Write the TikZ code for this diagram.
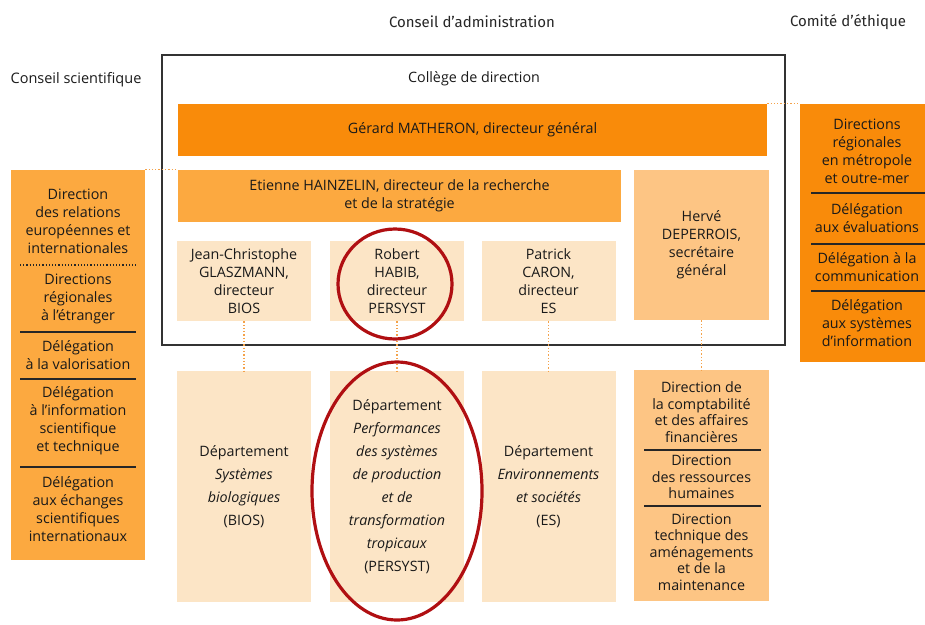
\documentclass[tikz,border=0pt]{standalone}
\usepackage{fontspec}
\setmainfont{Open Sans}
\newfontfamily\headfont{Fira Sans}
\usetikzlibrary{positioning}

\definecolor{darkorange}{HTML}{F98B0A}
\definecolor{midorange}{HTML}{FCA940}
\definecolor{lightorange}{HTML}{FDC584}
\definecolor{beige}{HTML}{FCE5C6}
\definecolor{ringred}{HTML}{B00F12}
\definecolor{dotorange}{HTML}{F4A24A}

\begin{document}
\begin{tikzpicture}[x=1pt, y=-1pt, font=\fontsize{14.3}{18}\selectfont, text=black!90,
          orgbox/.style={rectangle, inner sep=0pt, align=center},
          headbox/.style={orgbox, fill=darkorange},
          midbox/.style={orgbox, fill=midorange},
          lightbox/.style={orgbox, fill=lightorange},
          dirbox/.style={orgbox, fill=beige, minimum width=134, minimum height=80},
          deptbox/.style={orgbox, fill=beige, minimum width=134, minimum height=231, font=\fontsize{14.3}{23}\selectfont},
          sectext/.style={align=center, inner sep=0pt},
          sepline/.style={black!85, line width=1.2pt},
          dotlink/.style={dotorange, dotted, line width=1.3pt},
          ring/.style={ringred, line width=3.2pt},
          toplabel/.style={font=\headfont\fontsize{15}{17}\selectfont, text=black!85}]
        \useasboundingbox (0,0) rectangle (925,624);

        % labels above the boxes
        \node [toplabel] (ca) at (472,22) {Conseil d’administration};
        \node [toplabel] (ce) at (848,22) {Comité d’éthique};
        \node [font=\fontsize{14.5}{16}\selectfont] (cs) at (76,80) {Conseil scientifique};

        % college de direction
        \node [draw=black!80, line width=1.5pt, minimum width=623, minimum height=290] (college) at (473.5,200) {};
        \node (cdtitle) at (474,79) {Collège de direction};
        \node [headbox, minimum width=589, minimum height=52] (gerard) at (472.5,130) {Gérard MATHERON, directeur général};
        \node [midbox, minimum width=443, minimum height=52] (etienne) at (399.5,196) {Etienne HAINZELIN, directeur de la recherche\\et de la stratégie};
        \node [lightbox, minimum width=135, minimum height=150] (herve) at (701.5,245) {Hervé\\DEPERROIS,\\secrétaire\\général};
        \node [dirbox] (dBIOS) at (244,281) {Jean-Christophe\\GLASZMANN,\\directeur\\BIOS};
        \node [dirbox] (dPERSYST) at (397,281) {Robert\\HABIB,\\directeur\\PERSYST};
        \node [dirbox] (dES) at (548.5,281) {Patrick\\CARON,\\directeur\\ES};

        % departements
        \node [deptbox, below=50pt of dBIOS] (pBIOS) {Département\\\textit{Systèmes}\\\textit{biologiques}\\(BIOS)};
        \node [deptbox, below=50pt of dPERSYST] (pPERSYST) {Département\\\textit{Performances}\\\textit{des systèmes}\\\textit{de production}\\\textit{et de}\\\textit{transformation}\\\textit{tropicaux}\\(PERSYST)};
        \node [deptbox, below=50pt of dES] (pES) {Département\\\textit{Environnements}\\\textit{et sociétés}\\(ES)};
        \node [lightbox, minimum width=135, minimum height=231, below=50pt of herve] (admin) {};
        \node [sectext, font=\fontsize{14.3}{16.5}\selectfont] (sCompta) at (701.5,412) {Direction de\\la comptabilité\\et des affaires\\financières};
        \node [sectext, font=\fontsize{14.3}{16.5}\selectfont] (sRH) at (701.5,477) {Direction\\des ressources\\humaines};
        \node [sectext, font=\fontsize{14.3}{16.5}\selectfont] (sAmenag) at (701.5,552) {Direction\\technique des\\aménagements\\et de la\\maintenance};
        \draw [sepline] (644,450) -- (761,450);
        \draw [sepline] (644,506) -- (761,506);

        % panneau de gauche
        \node [midbox, minimum width=134, minimum height=390] (lpanel) at (78,365) {};
        \node [sectext] (sRelations) at (78,221) {Direction\\des relations\\européennes et\\internationales};
        \node [sectext] (sEtranger) at (78,299) {Directions\\régionales\\à l’étranger};
        \node [sectext] (sValo) at (78,355) {Délégation\\à la valorisation};
        \node [sectext] (sIST) at (78,421) {Délégation\\à l’information\\scientifique\\et technique};
        \node [sectext] (sEchanges) at (78,509) {Délégation\\aux échanges\\scientifiques\\internationaux};
        \draw [sepline, dotted] (20,265) -- (136,265);
        \draw [sepline] (20,332) -- (136,332);
        \draw [sepline] (20,379) -- (136,379);
        \draw [sepline] (20,467) -- (136,467);

        % panneau de droite
        \node [headbox, minimum width=125, minimum height=258] (rpanel) at (862.5,233) {};
        \node [sectext] (sRegions) at (867,151) {Directions\\régionales\\en métropole\\et outre-mer};
        \node [sectext] (sEval) at (867,218) {Délégation\\aux évaluations};
        \node [sectext] (sCom) at (867,267) {Délégation à la\\communication};
        \node [sectext] (sSI) at (867,323) {Délégation\\aux systèmes\\d’information};
        \draw [sepline] (811,193) -- (925,193);
        \draw [sepline] (811,244) -- (925,244);
        \draw [sepline] (811,291) -- (925,291);

        % liens pointilles
        \draw [dotlink] (gerard.north east) -- (rpanel.north west);
        \draw [dotlink] (lpanel.north east) -- (etienne.north west);
        \draw [dotlink] (dBIOS) -- (pBIOS);
        \draw [dotlink] (dPERSYST) -- (pPERSYST);
        \draw [dotlink] (dES) -- (pES);
        \draw [dotlink] (herve) -- (admin);

        % cercles rouges
        \draw [ring] (395,284) ellipse [x radius=57, y radius=55];
        \draw [ring] (397,491) ellipse [x radius=85, y radius=129];
      \end{tikzpicture}
\end{document}
